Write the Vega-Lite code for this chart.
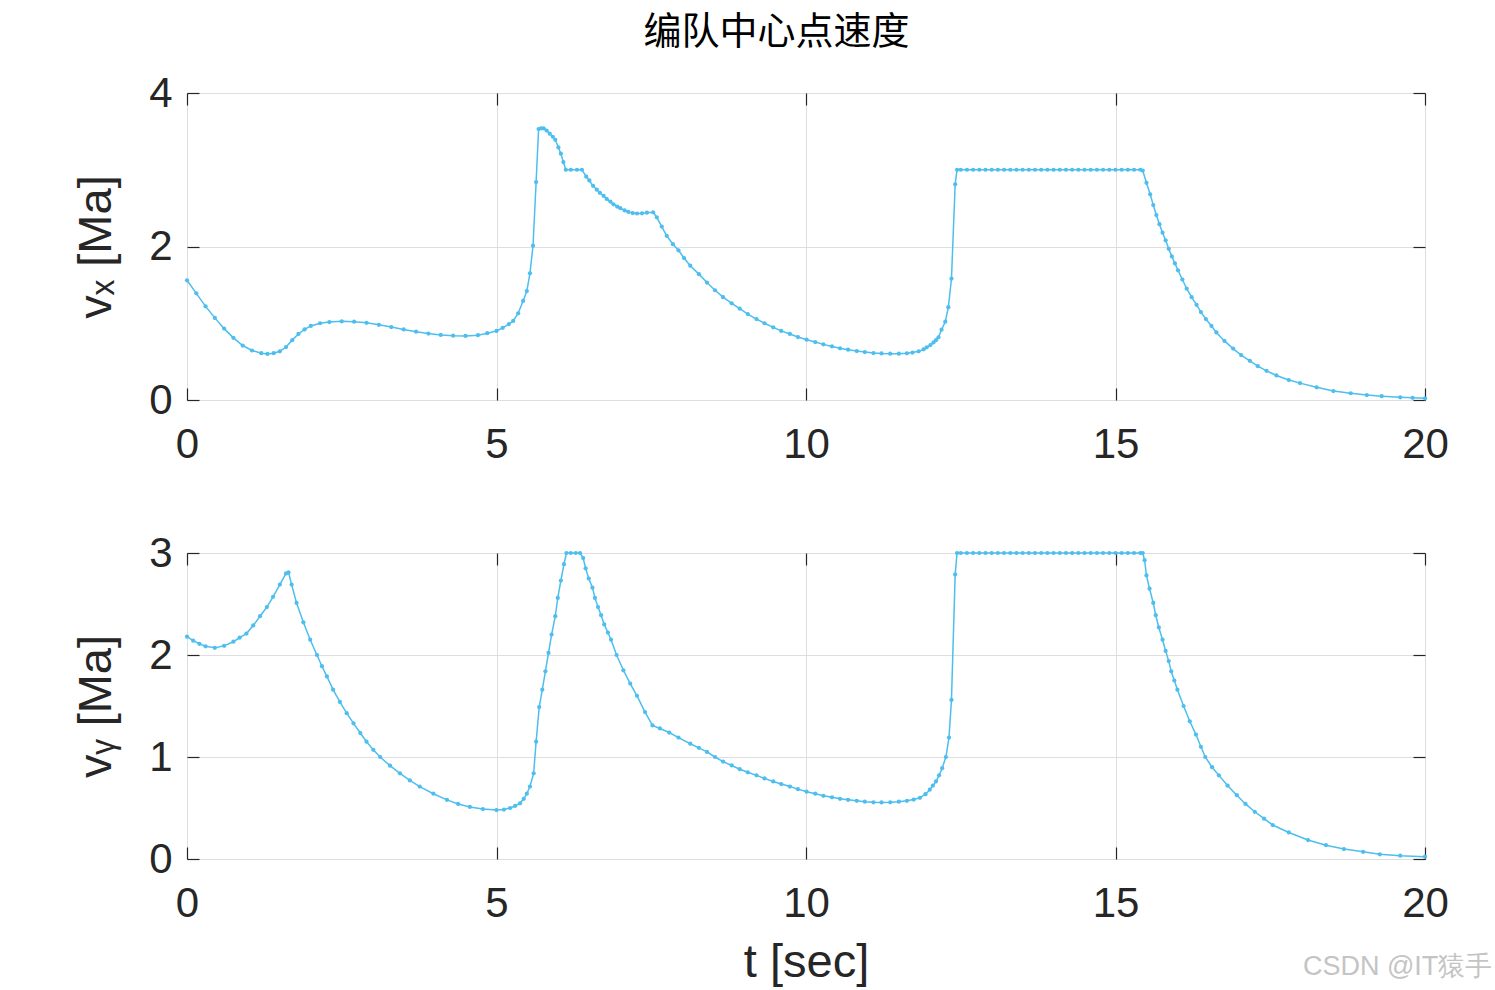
{
  "$schema": "https://vega.github.io/schema/vega-lite/v6.json",
  "background": "white",
  "padding": {"left": 72, "top": 13, "right": 40, "bottom": 5},
  "title": {"text": "编队中心点速度", "font": "Noto Sans CJK SC", "fontSize": 38, "fontWeight": "normal", "color": "#000000", "anchor": "middle", "offset": 20, "dx": -6},
  "config": {
    "font": "Liberation Sans",
    "view": {"stroke": "#262626", "strokeWidth": 1},
    "axis": {"labelFont": "Liberation Sans", "labelFontSize": 42, "labelColor": "#262626", "titleFont": "Liberation Sans", "titleFontSize": 47, "titleFontWeight": "normal", "titleColor": "#262626", "domain": false, "gridColor": "#dedede", "gridWidth": 1, "tickColor": "#262626", "tickWidth": 1.2, "tickSize": -12, "labelFlush": false, "labelOverlap": false, "labelBound": false}
  },
  "datasets": {
    "vx": [
      {"t":0,"v":1.56},{"t":0.15,"v":1.39},{"t":0.3,"v":1.22},{"t":0.45,"v":1.07},{"t":0.6,"v":0.93},{"t":0.75,"v":0.81},{"t":0.9,"v":0.71},{"t":1.05,"v":0.645},{"t":1.2,"v":0.61},{"t":1.3,"v":0.6},{"t":1.4,"v":0.61},{"t":1.5,"v":0.635},{"t":1.6,"v":0.69},{"t":1.7,"v":0.78},{"t":1.8,"v":0.86},{"t":1.9,"v":0.92},{"t":2.0,"v":0.965},{"t":2.15,"v":1.0},{"t":2.3,"v":1.015},{"t":2.5,"v":1.025},{"t":2.7,"v":1.02},{"t":2.9,"v":1.005},{"t":3.1,"v":0.98},{"t":3.3,"v":0.95},{"t":3.5,"v":0.92},{"t":3.7,"v":0.89},{"t":3.9,"v":0.865},{"t":4.1,"v":0.848},{"t":4.3,"v":0.838},{"t":4.5,"v":0.834},{"t":4.7,"v":0.845},{"t":4.85,"v":0.87},{"t":5.0,"v":0.9},{"t":5.1,"v":0.94},{"t":5.2,"v":0.99},{"t":5.27,"v":1.03},{"t":5.35,"v":1.13},{"t":5.43,"v":1.29},{"t":5.49,"v":1.42},{"t":5.54,"v":1.65},{"t":5.59,"v":2.01},{"t":5.64,"v":2.84},{"t":5.68,"v":3.53},{"t":5.72,"v":3.54},{"t":5.76,"v":3.54},{"t":5.81,"v":3.51},{"t":5.86,"v":3.47},{"t":5.91,"v":3.43},{"t":5.95,"v":3.39},{"t":6.0,"v":3.29},{"t":6.04,"v":3.21},{"t":6.08,"v":3.1},{"t":6.12,"v":3.0},{"t":6.2,"v":3.0},{"t":6.3,"v":3.0},{"t":6.38,"v":3.0},{"t":6.45,"v":2.91},{"t":6.5,"v":2.86},{"t":6.56,"v":2.79},{"t":6.62,"v":2.74},{"t":6.67,"v":2.7},{"t":6.73,"v":2.66},{"t":6.78,"v":2.62},{"t":6.84,"v":2.585},{"t":6.89,"v":2.55},{"t":6.95,"v":2.52},{"t":7.0,"v":2.5},{"t":7.07,"v":2.47},{"t":7.13,"v":2.45},{"t":7.2,"v":2.435},{"t":7.27,"v":2.43},{"t":7.35,"v":2.432},{"t":7.43,"v":2.44},{"t":7.53,"v":2.445},{"t":7.59,"v":2.38},{"t":7.67,"v":2.26},{"t":7.75,"v":2.14},{"t":7.85,"v":2.03},{"t":7.94,"v":1.95},{"t":8.03,"v":1.85},{"t":8.13,"v":1.75},{"t":8.27,"v":1.64},{"t":8.4,"v":1.53},{"t":8.53,"v":1.43},{"t":8.66,"v":1.34},{"t":8.8,"v":1.26},{"t":8.93,"v":1.19},{"t":9.06,"v":1.12},{"t":9.2,"v":1.055},{"t":9.33,"v":1.0},{"t":9.47,"v":0.947},{"t":9.6,"v":0.9},{"t":9.74,"v":0.86},{"t":9.87,"v":0.82},{"t":10.01,"v":0.786},{"t":10.15,"v":0.755},{"t":10.28,"v":0.725},{"t":10.42,"v":0.698},{"t":10.55,"v":0.673},{"t":10.68,"v":0.655},{"t":10.82,"v":0.638},{"t":10.95,"v":0.624},{"t":11.09,"v":0.612},{"t":11.22,"v":0.606},{"t":11.36,"v":0.603},{"t":11.5,"v":0.603},{"t":11.63,"v":0.608},{"t":11.72,"v":0.618},{"t":11.82,"v":0.634},{"t":11.9,"v":0.66},{"t":11.95,"v":0.686},{"t":12.01,"v":0.715},{"t":12.06,"v":0.75},{"t":12.1,"v":0.78},{"t":12.14,"v":0.817},{"t":12.19,"v":0.916},{"t":12.25,"v":1.02},{"t":12.3,"v":1.21},{"t":12.35,"v":1.58},{"t":12.41,"v":2.81},{"t":12.44,"v":3.0},
      {"t":12.5,"v":3.0},{"t":12.6,"v":3.0},{"t":12.7,"v":3.0},{"t":12.8,"v":3.0},{"t":12.9,"v":3.0},{"t":13.0,"v":3.0},{"t":13.1,"v":3.0},{"t":13.2,"v":3.0},{"t":13.3,"v":3.0},{"t":13.4,"v":3.0},{"t":13.5,"v":3.0},{"t":13.6,"v":3.0},{"t":13.7,"v":3.0},{"t":13.8,"v":3.0},{"t":13.9,"v":3.0},{"t":14.0,"v":3.0},{"t":14.1,"v":3.0},{"t":14.2,"v":3.0},{"t":14.3,"v":3.0},{"t":14.4,"v":3.0},{"t":14.5,"v":3.0},{"t":14.6,"v":3.0},{"t":14.7,"v":3.0},{"t":14.8,"v":3.0},{"t":14.9,"v":3.0},{"t":15.0,"v":3.0},{"t":15.1,"v":3.0},{"t":15.2,"v":3.0},{"t":15.3,"v":3.0},{"t":15.4,"v":3.0},
      {"t":15.44,"v":2.99},{"t":15.5,"v":2.83},{"t":15.56,"v":2.68},{"t":15.61,"v":2.54},{"t":15.66,"v":2.41},{"t":15.71,"v":2.29},{"t":15.76,"v":2.18},{"t":15.81,"v":2.08},{"t":15.86,"v":1.97},{"t":15.91,"v":1.87},{"t":15.96,"v":1.78},{"t":16.01,"v":1.69},{"t":16.08,"v":1.57},{"t":16.15,"v":1.45},{"t":16.23,"v":1.34},{"t":16.31,"v":1.24},{"t":16.38,"v":1.145},{"t":16.46,"v":1.055},{"t":16.55,"v":0.965},{"t":16.63,"v":0.88},{"t":16.76,"v":0.77},{"t":16.9,"v":0.67},{"t":17.03,"v":0.585},{"t":17.17,"v":0.51},{"t":17.3,"v":0.44},{"t":17.44,"v":0.38},{"t":17.6,"v":0.32},{"t":17.8,"v":0.26},{"t":17.98,"v":0.22},{"t":18.25,"v":0.165},{"t":18.52,"v":0.117},{"t":18.8,"v":0.088},{"t":19.06,"v":0.065},{"t":19.3,"v":0.05},{"t":19.6,"v":0.035},{"t":19.8,"v":0.028},{"t":20.0,"v":0.022}
    ],
    "vy": [
      {"t":0,"v":2.18},{"t":0.1,"v":2.14},{"t":0.2,"v":2.11},{"t":0.3,"v":2.085},{"t":0.45,"v":2.07},{"t":0.6,"v":2.09},{"t":0.75,"v":2.13},{"t":0.85,"v":2.17},{"t":0.96,"v":2.21},{"t":1.07,"v":2.29},{"t":1.18,"v":2.38},{"t":1.29,"v":2.47},{"t":1.39,"v":2.57},{"t":1.5,"v":2.69},{"t":1.6,"v":2.8},{"t":1.64,"v":2.81},{"t":1.69,"v":2.69},{"t":1.77,"v":2.51},{"t":1.88,"v":2.32},{"t":1.99,"v":2.15},{"t":2.1,"v":2.0},{"t":2.18,"v":1.89},{"t":2.26,"v":1.79},{"t":2.36,"v":1.66},{"t":2.47,"v":1.54},{"t":2.58,"v":1.43},{"t":2.69,"v":1.33},{"t":2.8,"v":1.235},{"t":2.9,"v":1.15},{"t":3.01,"v":1.07},{"t":3.12,"v":1.0},{"t":3.28,"v":0.915},{"t":3.44,"v":0.84},{"t":3.6,"v":0.77},{"t":3.76,"v":0.71},{"t":3.98,"v":0.64},{"t":4.2,"v":0.58},{"t":4.38,"v":0.54},{"t":4.57,"v":0.51},{"t":4.78,"v":0.49},{"t":5.0,"v":0.48},{"t":5.12,"v":0.485},{"t":5.22,"v":0.5},{"t":5.3,"v":0.52},{"t":5.38,"v":0.546},{"t":5.44,"v":0.59},{"t":5.49,"v":0.64},{"t":5.54,"v":0.71},{"t":5.6,"v":0.84},{"t":5.64,"v":1.15},{"t":5.69,"v":1.49},{"t":5.74,"v":1.66},{"t":5.79,"v":1.84},{"t":5.84,"v":2.02},{"t":5.89,"v":2.2},{"t":5.95,"v":2.38},{"t":5.99,"v":2.56},{"t":6.04,"v":2.73},{"t":6.09,"v":2.89},{"t":6.13,"v":3.0},{"t":6.2,"v":3.0},{"t":6.28,"v":3.0},{"t":6.35,"v":3.0},{"t":6.4,"v":2.95},{"t":6.44,"v":2.85},{"t":6.49,"v":2.75},{"t":6.55,"v":2.66},{"t":6.59,"v":2.56},{"t":6.64,"v":2.47},{"t":6.69,"v":2.39},{"t":6.74,"v":2.3},{"t":6.8,"v":2.22},{"t":6.85,"v":2.15},{"t":6.94,"v":2.0},{"t":7.05,"v":1.85},{"t":7.16,"v":1.72},{"t":7.27,"v":1.6},{"t":7.4,"v":1.44},{"t":7.52,"v":1.31},{"t":7.64,"v":1.28},{"t":7.79,"v":1.24},{"t":7.94,"v":1.19},{"t":8.13,"v":1.13},{"t":8.27,"v":1.09},{"t":8.4,"v":1.05},{"t":8.53,"v":1.0},{"t":8.66,"v":0.955},{"t":8.8,"v":0.917},{"t":8.93,"v":0.88},{"t":9.06,"v":0.85},{"t":9.2,"v":0.82},{"t":9.33,"v":0.79},{"t":9.47,"v":0.76},{"t":9.6,"v":0.735},{"t":9.74,"v":0.71},{"t":9.87,"v":0.685},{"t":10.01,"v":0.66},{"t":10.15,"v":0.64},{"t":10.28,"v":0.62},{"t":10.42,"v":0.605},{"t":10.55,"v":0.59},{"t":10.68,"v":0.58},{"t":10.82,"v":0.57},{"t":10.95,"v":0.562},{"t":11.09,"v":0.556},{"t":11.22,"v":0.554},{"t":11.36,"v":0.556},{"t":11.5,"v":0.562},{"t":11.63,"v":0.57},{"t":11.74,"v":0.583},{"t":11.84,"v":0.6},{"t":11.93,"v":0.635},{"t":12.0,"v":0.68},{"t":12.05,"v":0.72},{"t":12.1,"v":0.76},{"t":12.15,"v":0.82},{"t":12.2,"v":0.89},{"t":12.26,"v":1.0},{"t":12.31,"v":1.19},{"t":12.35,"v":1.56},{"t":12.41,"v":2.79},{"t":12.44,"v":3.0},
      {"t":12.5,"v":3.0},{"t":12.6,"v":3.0},{"t":12.7,"v":3.0},{"t":12.8,"v":3.0},{"t":12.9,"v":3.0},{"t":13.0,"v":3.0},{"t":13.1,"v":3.0},{"t":13.2,"v":3.0},{"t":13.3,"v":3.0},{"t":13.4,"v":3.0},{"t":13.5,"v":3.0},{"t":13.6,"v":3.0},{"t":13.7,"v":3.0},{"t":13.8,"v":3.0},{"t":13.9,"v":3.0},{"t":14.0,"v":3.0},{"t":14.1,"v":3.0},{"t":14.2,"v":3.0},{"t":14.3,"v":3.0},{"t":14.4,"v":3.0},{"t":14.5,"v":3.0},{"t":14.6,"v":3.0},{"t":14.7,"v":3.0},{"t":14.8,"v":3.0},{"t":14.9,"v":3.0},{"t":15.0,"v":3.0},{"t":15.1,"v":3.0},{"t":15.2,"v":3.0},{"t":15.3,"v":3.0},{"t":15.4,"v":3.0},
      {"t":15.44,"v":3.0},{"t":15.47,"v":2.93},{"t":15.5,"v":2.78},{"t":15.55,"v":2.65},{"t":15.61,"v":2.51},{"t":15.65,"v":2.39},{"t":15.7,"v":2.27},{"t":15.76,"v":2.15},{"t":15.81,"v":2.04},{"t":15.86,"v":1.94},{"t":15.9,"v":1.84},{"t":15.95,"v":1.75},{"t":16.0,"v":1.66},{"t":16.1,"v":1.5},{"t":16.2,"v":1.35},{"t":16.3,"v":1.22},{"t":16.38,"v":1.1},{"t":16.45,"v":1.0},{"t":16.56,"v":0.9},{"t":16.67,"v":0.82},{"t":16.81,"v":0.72},{"t":16.96,"v":0.626},{"t":17.1,"v":0.54},{"t":17.25,"v":0.463},{"t":17.4,"v":0.395},{"t":17.54,"v":0.333},{"t":17.8,"v":0.26},{"t":18.11,"v":0.186},{"t":18.4,"v":0.135},{"t":18.69,"v":0.098},{"t":19.0,"v":0.07},{"t":19.27,"v":0.046},{"t":19.6,"v":0.033},{"t":20.0,"v":0.023}
    ]
  },
  "spacing": 65,
  "vconcat": [
    {
      "width": 1238,
      "height": 307,
      "data": {"name": "vx"},
      "resolve": {"axis": {"x": "independent", "y": "independent"}},
      "layer": [
        {
          "mark": {"type": "line", "color": "#4DBEEE", "strokeWidth": 1.5, "point": {"filled": true, "size": 18, "color": "#4DBEEE"}},
          "encoding": {
            "x": {"field": "t", "type": "quantitative", "scale": {"domain": [0, 20], "nice": false}, "axis": {"values": [0, 5, 10, 15, 20], "title": null, "labelPadding": 36}},
            "y": {"field": "v", "type": "quantitative", "scale": {"domain": [0, 4], "nice": false}, "axis": {"values": [0, 2, 4], "title": "vₓ [Ma]", "labelPadding": 27, "titlePadding": 28}}
          }
        },
        {
          "mark": {"type": "line", "opacity": 0},
          "encoding": {
            "x": {"field": "t", "type": "quantitative", "axis": {"orient": "top", "values": [0, 5, 10, 15, 20], "labels": false, "grid": false, "title": null}},
            "y": {"field": "v", "type": "quantitative", "axis": {"orient": "right", "values": [0, 2, 4], "labels": false, "grid": false, "title": null}}
          }
        }
      ]
    },
    {
      "width": 1238,
      "height": 306,
      "data": {"name": "vy"},
      "resolve": {"axis": {"x": "independent", "y": "independent"}},
      "title": {"text": "CSDN @IT猿手", "orient": "bottom", "anchor": "end", "font": "Liberation Sans", "fontSize": 27, "fontWeight": "normal", "color": "#c4c4c4", "offset": -31, "dx": 44},
      "layer": [
        {
          "mark": {"type": "line", "color": "#4DBEEE", "strokeWidth": 1.5, "point": {"filled": true, "size": 18, "color": "#4DBEEE"}},
          "encoding": {
            "x": {"field": "t", "type": "quantitative", "scale": {"domain": [0, 20], "nice": false}, "axis": {"values": [0, 5, 10, 15, 20], "title": "t [sec]", "labelPadding": 36, "titlePadding": 15}},
            "y": {"field": "v", "type": "quantitative", "scale": {"domain": [0, 3], "nice": false}, "axis": {"values": [0, 1, 2, 3], "title": "vᵧ [Ma]", "labelPadding": 27, "titlePadding": 28}}
          }
        },
        {
          "mark": {"type": "line", "opacity": 0},
          "encoding": {
            "x": {"field": "t", "type": "quantitative", "axis": {"orient": "top", "values": [0, 5, 10, 15, 20], "labels": false, "grid": false, "title": null}},
            "y": {"field": "v", "type": "quantitative", "axis": {"orient": "right", "values": [0, 1, 2, 3], "labels": false, "grid": false, "title": null}}
          }
        }
      ]
    }
  ]
}
